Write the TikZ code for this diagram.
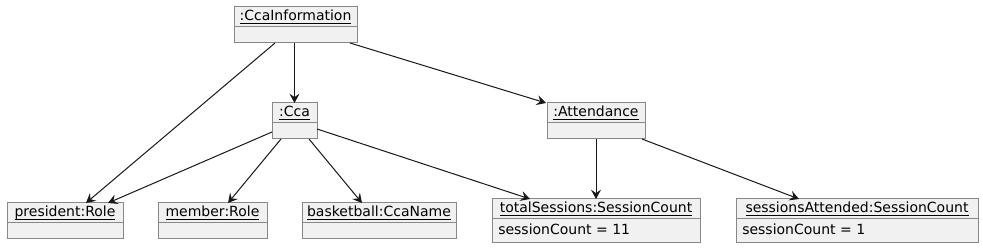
\documentclass[tikz,border=0pt]{standalone}
\usepackage{fontspec}
\setmainfont{DejaVu Sans}
\usetikzlibrary{calc,arrows.meta}
\definecolor{boxfill}{HTML}{F1F1F1}
\definecolor{boxline}{HTML}{888888}
\definecolor{linecol}{HTML}{181818}
\newcommand{\objul}[1]{\setbox0\hbox{#1}\rlap{\rule[-2.3pt]{\wd0}{0.7pt}}\box0}
\tikzset{
  objbox/.style={draw=boxline, fill=boxfill, line width=0.75pt, rectangle, inner sep=0pt, outer sep=0pt},
  divider/.style={draw=boxline, line width=0.75pt},
  titletext/.style={inner sep=0pt, anchor=base, font=\fontsize{10.5pt}{12pt}\selectfont, text=black},
  attrtext/.style={inner sep=0pt, anchor=base west, font=\fontsize{10.5pt}{12pt}\selectfont, text=black},
  conn/.style={draw=linecol, line width=0.75pt, -{Stealth[length=7pt, width=7.5pt, inset=2.6pt]}},
}
\newcommand{\objnode}[7]{%
  \node[objbox, minimum width={#4*0.75pt}, minimum height={#5*0.75pt}] (#1) at (#2,#3) {};
  \draw[divider] ($(#1.north west)+(0,#6)$) -- ($(#1.north east)+(0,#6)$);
  \node[titletext] (#1-title) at ($(#1.north)+(0,14)$) {\objul{#7}};
}
\begin{document}
\begin{tikzpicture}[x=0.75pt,y=-0.75pt]
\path[use as bounding box, fill=white] (0,0) rectangle (983,249);
\objnode{info}{295.5}{25}{123}{36}{20}{:CcaInformation}
\objnode{cca}{294.5}{121}{45}{36}{20}{:Cca}
\objnode{att}{596}{121}{98}{36}{20}{:Attendance}
\objnode{pres}{65}{221}{116}{36}{20}{president:Role}
\objnode{mem}{212.5}{221}{109}{36}{20}{member:Role}
\objnode{bb}{379}{221}{154}{36}{20}{basketball:CcaName}
\objnode{tot}{596}{221}{208}{44}{20}{totalSessions:SessionCount}
\objnode{sa}{857}{221}{242}{44}{20}{sessionsAttended:SessionCount}
\node[attrtext] (tot-attr) at ($(tot.north west)+(6,36)$) {sessionCount = 11};
\node[attrtext] (sa-attr) at ($(sa.north west)+(6,36)$) {sessionCount = 1};

\draw[conn] ($(info.south west)+(41,0)$) -- ($(pres.north west)+(79,0)$);
\draw[conn] (cca.north |- info.south) -- (cca.north);
\draw[conn] ($(info.south west)+(116,0)$) -- ($(att.north west)+(-1,0)$);
\draw[conn] ($(cca.south west)+(0,-7)$) -- ($(pres.north west)+(101,0)$);
\draw[conn] ($(cca.south west)+(9,0)$) -- ($(mem.north west)+(70,0)$);
\draw[conn] ($(cca.south west)+(37,0)$) -- ($(bb.north west)+(60,0)$);
\draw[conn] ($(cca.east)+(0,8)$) -- ($(tot.north west)+(38,0)$);
\draw[conn] (att.south) -- (tot.north);
\draw[conn] ($(att.south west)+(95,0)$) -- ($(sa.north west)+(63,0)$);
\end{tikzpicture}
\end{document}
